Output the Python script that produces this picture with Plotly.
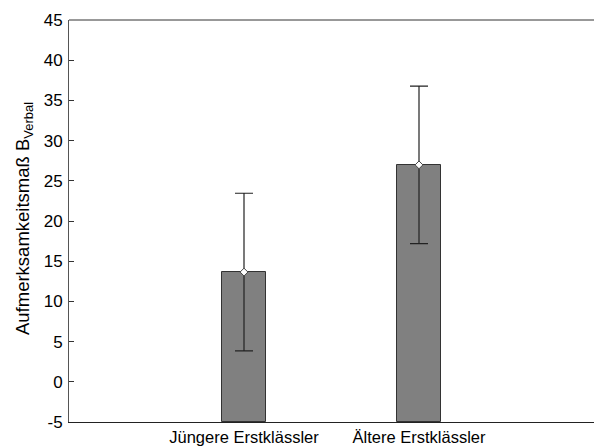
import plotly.graph_objects as go

# Gruppen und Kennwerte (Mittelwert, Fehlerbalken)
categories = ["Jüngere Erstklässler", "Ältere Erstklässler"]
means = [13.65, 26.98]
errors = [9.8, 9.8]
y_floor = -5
y_ticks = [-5, 0, 5, 10, 15, 20, 25, 30, 35, 40, 45]
y_ticklabels = ["-5", "0", "5", "10", "15", "20", "25", "30", "35", "40", "45"]

xpos = list(range(len(categories)))
font_family = "Liberation Sans, Arial, sans-serif"

fig = go.Figure()

# Balken vom unteren Achsenrand bis zum Mittelwert
fig.add_trace(go.Bar(
    x=xpos,
    y=[m - y_floor for m in means],
    base=[y_floor] * len(means),
    width=0.25,
    marker=dict(color="#808080", line=dict(color="#333333", width=1)),
    showlegend=False,
))

# Mittelwertpunkte mit Fehlerbalken
fig.add_trace(go.Scatter(
    x=xpos,
    y=means,
    mode="markers",
    marker=dict(symbol="diamond", size=6, color="white",
                line=dict(color="#444444", width=1)),
    error_y=dict(type="data", array=errors, visible=True,
                 color="#222222", thickness=1.2, width=9),
    showlegend=False,
))

fig.update_layout(
    width=594,
    height=448,
    margin=dict(l=69, r=0, t=20, b=26),
    paper_bgcolor="white",
    plot_bgcolor="white",
    font=dict(family=font_family, size=17, color="black"),
    bargap=0,
)

fig.update_xaxes(
    range=[-1, 2],
    tickvals=xpos,
    ticktext=categories,
    ticks="",
    showgrid=False,
    zeroline=False,
    showline=True,
    linecolor="#222222",
    linewidth=1,
    mirror=False,
    tickfont=dict(size=16.5),
)

fig.update_yaxes(
    range=[y_floor, 45],
    tickvals=y_ticks,
    ticktext=y_ticklabels,
    ticks="inside",
    ticklen=5,
    tickcolor="#333333",
    showgrid=False,
    zeroline=False,
    showline=True,
    linecolor="#555555",
    linewidth=1,
    tickfont=dict(size=17),
    ticklabelstandoff=2,
)

# obere Rahmenlinie
fig.add_shape(
    type="line", xref="paper", yref="paper",
    x0=0, x1=1, y0=1, y1=1,
    line=dict(color="#333333", width=1),
)

fig.add_annotation(
    text="Aufmerksamkeitsmaß B<sub>Verbal</sub>",
    textangle=-90,
    xref="paper", yref="paper",
    x=-0.086, y=0.507,
    xanchor="center", yanchor="middle",
    showarrow=False,
    font=dict(size=18.5, family=font_family, color="black"),
)

fig.write_html("out.html")
